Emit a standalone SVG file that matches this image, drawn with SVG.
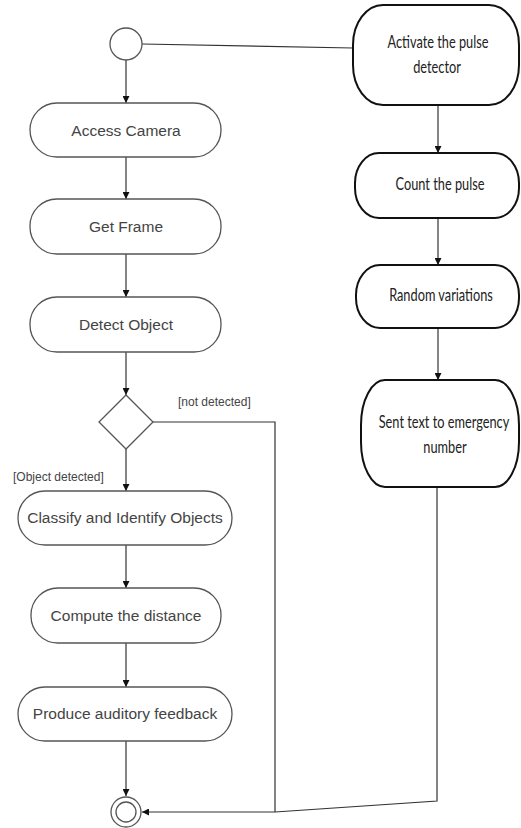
<svg xmlns="http://www.w3.org/2000/svg" width="521" height="828" viewBox="0 0 521 828">
<defs>
<marker id="arr" viewBox="0 0 10 10" refX="10" refY="5" markerWidth="7" markerHeight="7" orient="auto" markerUnits="userSpaceOnUse">
<path d="M0,0 L10,5 L0,10 z" fill="#111"/>
</marker>
<style>
.act{fill:#fff;stroke:#555;stroke-width:1.3}
.act2{fill:#fff;stroke:#111;stroke-width:2}
.lt{font-family:"Liberation Sans",Arial,sans-serif;font-size:15.5px;fill:#444;text-anchor:middle}
.rt{font-family:Lato,"Open Sans",sans-serif;font-size:18px;fill:#222;text-anchor:middle}
.gd{font-family:"Liberation Sans",Arial,sans-serif;font-size:12px;fill:#444}
.ln{fill:none;stroke:#333;stroke-width:1.2}
</style>
</defs>
<rect width="521" height="828" fill="#fff"/>
<g id="connectors">
<line class="ln" x1="142" y1="44" x2="353" y2="48"/>
<line class="ln" x1="126" y1="60" x2="126" y2="103" marker-end="url(#arr)"/>
<line class="ln" x1="126" y1="157" x2="126" y2="199" marker-end="url(#arr)"/>
<line class="ln" x1="126" y1="254" x2="126" y2="297" marker-end="url(#arr)"/>
<line class="ln" x1="126" y1="352" x2="126" y2="395" marker-end="url(#arr)"/>
<line class="ln" x1="126" y1="449" x2="126" y2="491" marker-end="url(#arr)"/>
<line class="ln" x1="126" y1="545" x2="126" y2="588" marker-end="url(#arr)"/>
<line class="ln" x1="126" y1="643" x2="126" y2="687" marker-end="url(#arr)"/>
<line class="ln" x1="126" y1="741" x2="126" y2="796" marker-end="url(#arr)"/>
<polyline class="ln" points="153,422 275,422 275,812"/>
<line class="ln" x1="275" y1="812" x2="142" y2="812" marker-end="url(#arr)"/>
<polyline class="ln" points="437,487 437,801 275,812"/>
<line class="ln" x1="438" y1="105" x2="438" y2="153" marker-end="url(#arr)"/>
<line class="ln" x1="438" y1="218" x2="438" y2="265" marker-end="url(#arr)"/>
<line class="ln" x1="438" y1="328" x2="438" y2="380" marker-end="url(#arr)"/>
<text class="gd" x="178" y="406">[not detected]</text>
<text class="gd" x="13" y="481">[Object detected]</text>
</g>
<g id="start"><circle cx="126" cy="44" r="16" fill="#fff" stroke="#555" stroke-width="1.3"/></g>
<g id="access-camera"><rect class="act" x="30" y="103" width="191" height="54" rx="27"/><text class="lt" x="126" y="136">Access Camera</text></g>
<g id="get-frame"><rect class="act" x="30" y="199" width="191" height="55" rx="27"/><text class="lt" x="126" y="232">Get Frame</text></g>
<g id="detect-object"><rect class="act" x="30" y="297" width="191" height="55" rx="27"/><text class="lt" x="126" y="330">Detect Object</text></g>
<g id="decision"><polygon points="126,395 153,422 126,449 99,422" fill="#fff" stroke="#555" stroke-width="1.3"/></g>
<g id="classify"><rect class="act" x="18" y="491" width="214" height="54" rx="27"/><text class="lt" x="125" y="523">Classify and Identify Objects</text></g>
<g id="compute"><rect class="act" x="31" y="588" width="190" height="55" rx="27"/><text class="lt" x="126" y="621">Compute the distance</text></g>
<g id="produce"><rect class="act" x="18" y="687" width="214" height="54" rx="27"/><text class="lt" x="125" y="719">Produce auditory feedback</text></g>
<g id="end"><circle cx="126" cy="812" r="15" fill="#fff" stroke="#555" stroke-width="1.3"/><circle cx="126" cy="812" r="10" fill="#fff" stroke="#555" stroke-width="1.3"/></g>
<g id="activate"><rect class="act2" x="353" y="5" width="166" height="100" rx="30" ry="40"/><text class="rt" transform="translate(438,48) scale(0.71,1)">Activate the pulse</text><text class="rt" transform="translate(437,73) scale(0.71,1)">detector</text></g>
<g id="count"><rect class="act2" x="355" y="153" width="164" height="65" rx="24" ry="30"/><text class="rt" transform="translate(440,190) scale(0.71,1)">Count the pulse</text></g>
<g id="random"><rect class="act2" x="356" y="265" width="163" height="63" rx="24" ry="30"/><text class="rt" transform="translate(441,301) scale(0.71,1)">Random variations</text></g>
<g id="sent"><rect class="act2" x="361" y="380" width="158" height="107" rx="24" ry="45"/><text class="rt" transform="translate(444,428) scale(0.71,1)">Sent text to emergency</text><text class="rt" transform="translate(445,453) scale(0.71,1)">number</text></g>
</svg>
